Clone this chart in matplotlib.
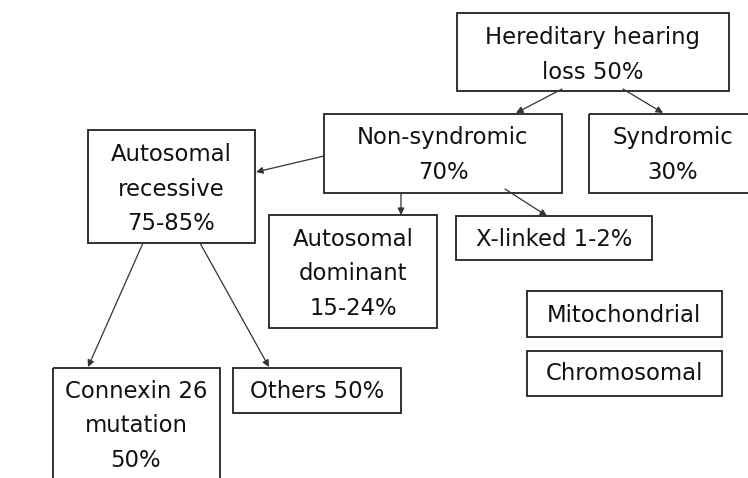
import matplotlib.pyplot as plt
import matplotlib.patches as patches

# node labels
labels = [
    "Hereditary hearing\nloss 50%",
    "Non-syndromic\n70%",
    "Syndromic\n30%",
    "Autosomal\nrecessive\n75-85%",
    "Autosomal\ndominant\n15-24%",
    "X-linked 1-2%",
    "Mitochondrial",
    "Chromosomal",
    "Connexin 26\nmutation\n50%",
    "Others 50%",
]

# box layout in pixels: x0, y0, x1, y1 (y down), and text centre
boxes = [
    (457, 13, 729, 91),
    (324, 114, 562, 193),
    (589, 114, 757, 193),
    (88, 130, 255, 243),
    (269, 215, 437, 328),
    (456, 216, 652, 260),
    (527, 291, 722, 337),
    (527, 351, 722, 396),
    (53, 368, 220, 495),
    (233, 368, 401, 413),
]
text_pos = [
    (593, 55), (443, 155), (673, 155), (171, 189), (353, 274),
    (554, 239), (624, 315), (624, 374), (136, 426), (317, 391),
]

# arrows: (x_start, y_start, x_end, y_end)
arrows = [
    (562, 89, 516, 113),
    (623, 89, 663, 113),
    (324, 156, 256, 172),
    (401, 193, 401, 215),
    (505, 189, 547, 216),
    (143, 243, 88, 367),
    (200, 243, 269, 367),
]

fig = plt.figure(figsize=(7.48, 4.78), dpi=100)
ax = fig.add_axes([0, 0, 1, 1])
ax.set_xlim(0, 748)
ax.set_ylim(478, 0)
ax.axis('off')

for (x0, y0, x1, y1), lab, (tx, ty) in zip(boxes, labels, text_pos):
    ax.add_patch(patches.Rectangle((x0, y0), x1 - x0, y1 - y0, fill=False,
                                   edgecolor='#222222', linewidth=1.3))
    ax.text(tx, ty, lab, ha='center', va='center', fontsize=16.4,
            color='#111111', linespacing=1.62, family='DejaVu Sans')

for xs, ys, xe, ye in arrows:
    ax.annotate('', xy=(xe, ye), xytext=(xs, ys),
                arrowprops=dict(arrowstyle='-|>', color='#333333', lw=0.9,
                                mutation_scale=10, shrinkA=0, shrinkB=0))

fig.savefig('out.png', dpi=100)
